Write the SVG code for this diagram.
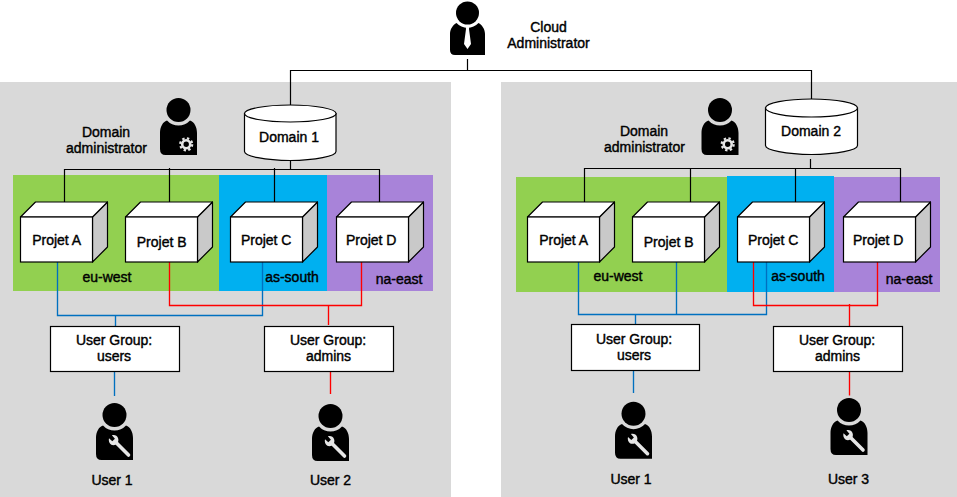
<svg xmlns="http://www.w3.org/2000/svg" width="957" height="497" viewBox="0 0 957 497">
<style>
text{font-family:"Liberation Sans",Arial,sans-serif;font-size:14px;fill:#000;stroke:#000;stroke-width:.4px;text-anchor:middle;transform:translateY(.7px)}
.panel{fill:#d9d9d9}
.k{fill:none;stroke-width:1.2;stroke:#000}
.b,.r{fill:none;stroke-width:1.35}
.b{stroke:#0070c0}.r{stroke:#ff0000}
.box{fill:#fff;stroke:#000;stroke-width:1.2}
.side{fill:#c9c9c9;stroke:#000;stroke-width:1.2;stroke-linejoin:round}
.top{fill:#fff;stroke:#000;stroke-width:1.2;stroke-linejoin:round}
</style>
<defs>
<g id="person">
<circle r="12"/>
<path d="M-11.5,10.4A15.5,15.5 0 0 0 11.5,10.4C16,12 18.5,17 18.5,23L18.5,45L-13,45Q-18.5,45 -18.5,39L-18.5,23C-18.5,17 -16,12 -11.5,10.4Z"/>
</g>
<g id="gearperson">
<use href="#person"/>
<g fill="none" stroke="#e6e6e6">
<circle cx="7.7" cy="34.3" r="4" stroke-width="2.6"/>
<circle cx="7.7" cy="34.3" r="6" stroke-width="2.2" stroke-dasharray="2.36 2.35"/>
</g>
</g>
<g id="wrenchperson">
<use href="#person"/>
<path d="M1.5,27.5L14,40" stroke="#e6e6e6" stroke-width="3.6" stroke-linecap="round"/>
<path d="M-5.5,23.3L-2.2,26.2L0.4,23.7L-2.6,20.2C0,19.4 2.7,20.5 3.6,23.2C4.2,25 3.8,26.6 3.2,27.7L1.3,29.6C0,30.2 -1.8,30.4 -3.2,29.7C-5.2,28.6 -6.2,25.7 -5.5,23.3Z" fill="#e6e6e6"/>
</g>
<g id="cube">
<path class="side" d="M72,0L87,-15L87,30L72,45Z"/>
<path class="top" d="M0,0L15,-15L87,-15L72,0Z"/>
<rect class="box" width="72" height="45"/>
</g>
</defs>

<rect class="panel" x="0" y="82" width="451" height="415"/>
<rect class="panel" x="501" y="82" width="456" height="415"/>

<g id="regions">
<rect x="13" y="175" width="206" height="116" fill="#92d050"/>
<rect x="219" y="175" width="108" height="116" fill="#00b0f0"/>
<rect x="327" y="175" width="106" height="116" fill="#a883d9"/>
<rect x="516" y="177" width="211" height="115" fill="#92d050"/>
<rect x="727" y="176" width="107" height="116" fill="#00b0f0"/>
<rect x="834" y="177" width="106" height="115" fill="#a883d9"/>
</g>

<g id="connectors">
<path class="k" d="M467.5,59V70.5M290.5,105V70.5H811.5V99"/>
<path class="k" d="M290.5,160V169.5M64.5,202V169.5H380M169.5,168V202M274.5,168V202M379.5,169.5V202"/>
<path class="k" d="M810.5,159V168.5M584.5,202V168.5H900.5V202M690.5,168.5V202M795.5,168.5V202"/>
<path class="b" d="M57.5,262V315.5H262.5V262M115.5,315.5V326M114.5,371V396"/>
<path class="r" d="M169.5,262V305.5H361.5V262M328.5,305.5V325M330.5,370V394"/>
<path class="b" d="M578.5,262V314.5H766.5V262M676.5,262V314.5M635.5,314.5V324M633.5,370V393"/>
<path class="r" d="M753.5,262V305.5H877.5V262M849.5,304V326M849.5,371V395.5"/>
</g>

<g id="cloud-admin">
<circle cx="467.5" cy="13" r="11.5"/>
<path d="M456.5,23A15,15 0 0 0 478.5,23C482,25 485,29 485,34L485,55L455,55Q450,55 450,50L450,34C450,29 453,25 456.5,23Z"/>
<path d="M465.5,25L469.5,25L469,29L471,44L467.5,49L464,44L466,29Z" fill="#fff"/>
<text x="548.5" y="31">Cloud</text>
<text x="548.5" y="47">Administrator</text>
</g>

<g id="domain-admin-1"><use href="#gearperson" x="178.5" y="110"/><text x="106" y="136">Domain</text><text x="106.5" y="152">administrator</text></g>
<g id="domain-admin-2"><use href="#gearperson" x="720" y="110"/><text x="644" y="135">Domain</text><text x="644.5" y="151">administrator</text></g>

<g id="domain-1">
<path class="box" d="M244.5,113.5V151.5C244.5,156 265,160.5 290.3,160.5C315.5,160.5 336,156 336,151.5V113.5Z"/>
<ellipse class="box" cx="290.3" cy="113.5" rx="45.8" ry="8.5"/>
<text x="289" y="141">Domain 1</text>
</g>
<g id="domain-2">
<path class="box" d="M765.5,108V145.5C765.5,150 786,154.5 811.5,154.5C837,154.5 857.5,150 857.5,145.5V108Z"/>
<ellipse class="box" cx="811.5" cy="108" rx="46" ry="9"/>
<text x="811" y="135">Domain 2</text>
</g>

<g id="region-labels">
<text x="107" y="281.5">eu-west</text><text x="292" y="281.5">as-south</text><text x="399" y="283">na-east</text>
<text x="618" y="280.5">eu-west</text><text x="798" y="280.5">as-south</text><text x="909" y="283">na-east</text>
</g>

<g id="projet-a-1"><use href="#cube" x="20.5" y="217"/><text x="56.7" y="244">Projet A</text></g>
<g id="projet-b-1"><use href="#cube" x="125.5" y="217"/><text x="161.7" y="246.5">Projet B</text></g>
<g id="projet-c-1"><use href="#cube" x="230.5" y="217"/><text x="266.2" y="244">Projet C</text></g>
<g id="projet-d-1"><use href="#cube" x="336.5" y="217"/><text x="371.2" y="244">Projet D</text></g>
<g id="projet-a-2"><use href="#cube" x="527.5" y="217"/><text x="563.7" y="244">Projet A</text></g>
<g id="projet-b-2"><use href="#cube" x="632.5" y="217"/><text x="668.7" y="246.5">Projet B</text></g>
<g id="projet-c-2"><use href="#cube" x="737.5" y="217"/><text x="773.2" y="244">Projet C</text></g>
<g id="projet-d-2"><use href="#cube" x="843.5" y="217"/><text x="878.2" y="244">Projet D</text></g>

<g id="group-users-1"><rect class="box" x="50.5" y="326.5" width="129" height="45"/><text x="114" y="344">User Group:</text><text x="114" y="360">users</text></g>
<g id="group-admins-1"><rect class="box" x="264.5" y="326.5" width="129" height="45"/><text x="328" y="344">User Group:</text><text x="328.5" y="360">admins</text></g>
<g id="group-users-2"><rect class="box" x="571.5" y="324.5" width="128" height="46"/><text x="634" y="343">User Group:</text><text x="634" y="359">users</text></g>
<g id="group-admins-2"><rect class="box" x="773.5" y="326.5" width="129" height="45"/><text x="837" y="344">User Group:</text><text x="837.5" y="360">admins</text></g>

<g id="user-1a"><use href="#wrenchperson" x="114.5" y="415"/><text x="112" y="484">User 1</text></g>
<g id="user-2"><use href="#wrenchperson" x="330.5" y="416"/><text x="330.5" y="484">User 2</text></g>
<g id="user-1b"><use href="#wrenchperson" x="633.5" y="413.7"/><text x="631" y="483">User 1</text></g>
<g id="user-3"><use href="#wrenchperson" x="849" y="410"/><text x="848.5" y="483">User 3</text></g>
</svg>
